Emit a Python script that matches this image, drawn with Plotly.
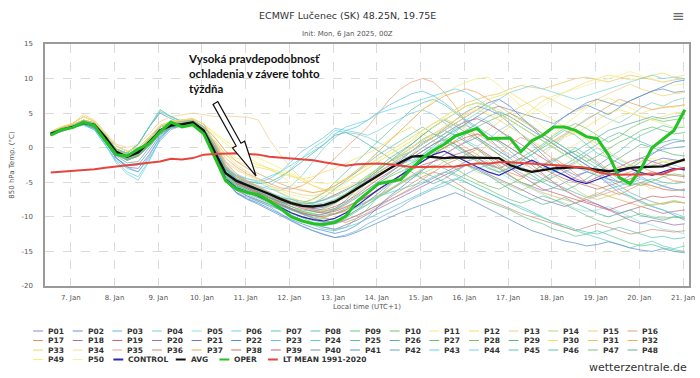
import plotly.graph_objects as go
import pandas as pd

# ---------------- data ----------------
times = pd.date_range("2025-01-06 13:00", periods=59, freq="6h")

avg = [2.0, 2.6, 3.0, 3.6, 3.3, 1.5, -0.6, -1.3, -0.7, 0.8, 2.5, 3.2, 3.4, 3.7, 2.5,
       -0.5, -3.7, -4.8, -5.4, -6.0, -6.7, -7.4, -8.0, -8.4, -8.5, -8.3, -7.8, -6.9, -5.9, -5.0, -4.0,
       -3.0, -2.1, -1.3, -1.2, -1.3, -1.5, -1.4, -1.4, -1.4, -1.4, -1.5, -2.5, -3.1, -3.5, -3.2, -3.0,
       -2.9, -2.8, -3.0, -3.2, -3.4, -3.2, -2.9, -2.8, -2.8, -2.7, -2.2, -1.7]

oper = [1.8, 2.6, 2.9, 3.7, 3.2, 1.0, -1.0, -1.2, -0.2, 0.6, 2.3, 3.7, 3.0, 3.3, 2.0,
        -1.4, -4.8, -6.0, -6.5, -6.8, -7.7, -8.8, -10.0, -10.6, -11.0, -11.1, -10.8, -9.9, -7.8, -6.5, -5.2,
        -4.9, -4.6, -3.0, -1.5, -0.4, 0.5, 1.7, 2.2, 2.8, 1.3, 1.4, 1.4, -0.6, 1.0, 1.8, 3.0,
        3.0, 2.5, 1.6, 1.3, -1.0, -4.3, -5.2, -3.0, 0.0, 1.2, 2.5, 5.5]

lt_mean = [-3.6, -3.5, -3.4, -3.2, -3.1, -2.9, -2.7, -2.6, -2.4, -2.2, -2.0, -1.6, -1.7, -1.5, -1.0,
           -0.9, -0.8, -0.8, -0.9, -1.0, -1.3, -1.4, -1.5, -1.7, -1.8, -2.1, -2.4, -2.6, -2.4, -2.3, -2.3,
           -2.4, -2.6, -2.8, -2.8, -2.8, -2.8, -2.7, -2.5, -2.3, -2.3, -2.1, -2.1, -2.2, -2.3, -2.3, -2.4,
           -2.6, -2.8, -2.9, -3.5, -3.8, -3.9, -3.9, -3.9, -3.8, -3.8, -3.2, -2.9]

control = [1.9, 2.6, 3.0, 3.6, 3.2, 1.2, -0.8, -1.3, -0.5, 0.8, 2.6, 3.4, 3.3, 3.5, 2.2,
           -1.0, -4.5, -5.8, -6.4, -7.0, -7.8, -8.6, -9.4, -10.0, -10.4, -10.6, -10.2, -9.4, -8.4, -7.2, -6.0,
           -5.0, -4.0, -3.0, -2.0, -1.0, -0.5, -1.2, -2.0, -2.8, -3.5, -4.0, -3.2, -2.5, -1.8,
           -2.5, -3.2, -4.0, -4.8, -5.2, -4.6, -4.0, -3.5, -3.0, -3.6, -4.0, -3.5, -3.0, -3.2]

P01 = [2.1, 2.7, 3.1, 3.5, 3.0, 1.2, -0.8, -1.6, -1.0, 0.5, 2.2, 3.0, 3.5, 3.8, 2.8,
       -0.2, -3.5, -5.0, -5.8, -6.5, -7.2, -8.0, -8.8, -9.5, -10.2, -10.8, -11.0, -10.5, -9.8, -9.0, -8.2,
       -7.5, -6.8, -6.0, -5.2, -4.4, -3.5, -2.8, -2.0, -1.5, -2.2, -3.0, -4.1, -5.0, -5.6,
       -6.2, -5.8, -5.0, -4.2, -3.5, -4.0, -5.2, -6.5, -7.0, -7.8, -8.5, -9.0, -9.8, -10.5]
P02 = [1.9, 2.5, 3.2, 3.9, 3.5, 1.8, -0.2, -0.8, 0.5, 3.0, 5.0, 4.2, 3.6, 3.9, 3.0,
       0.5, -2.5, -4.5, -5.5, -6.2, -6.8, -7.5, -8.0, -8.6, -9.0, -9.2, -8.8, -7.6, -6.0, -4.8, -3.5,
       -2.6, -1.8, -0.5, 0.8, 1.5, 2.8, 4.0, 5.2, 6.0, 5.5, 4.8, 3.5, 2.0, 0.5,
       -1.0, -2.5, -3.2, -4.0, -3.5, -2.6, -1.5, -2.2, -3.0, -2.0, -1.0, 0.2, 0.8, 1.0]
P03 = [2.2, 2.8, 2.9, 3.4, 2.8, 0.8, -1.5, -2.8, -3.5, -1.5, 1.0, 2.6, 3.2, 3.5, 2.2,
       -1.0, -4.5, -6.0, -7.0, -7.8, -8.5, -9.5, -10.5, -11.3, -12.0, -12.5, -13.0, -12.6, -12.0, -11.0, -10.2,
       -9.5, -8.6, -7.5, -6.8, -6.0, -5.5, -4.6, -3.8, -3.0, -2.5, -2.0, -2.8, -3.6, -4.5,
       -5.0, -4.2, -3.5, -2.8, -3.4, -4.0, -4.6, -5.5, -5.0, -4.2, -5.0, -5.6, -6.0, -6.2]
P04 = [2.0, 2.6, 3.0, 3.6, 3.3, 1.5, -0.6, -1.3, -0.7, 0.8, 2.5, 3.2, 3.4, 3.7, 2.5,
       0.0, -3.0, -4.2, -5.0, -5.5, -6.0, -6.2, -5.5, -4.0, -2.0, 0.0, 1.5, 2.5, 2.2, 1.8, 2.5,
       3.5, 4.2, 5.0, 5.5, 4.8, 3.6, 2.5, 1.0, 0.2, 1.2, 2.5, 3.4, 2.0, 0.8,
       -0.5, 0.5, 1.8, 3.0, 4.2, 5.0, 4.2, 3.6, 4.5, 5.8, 6.5, 6.0, 6.8, 7.2]
P05 = [2.3, 3.0, 3.5, 4.5, 3.8, 2.0, 0.2, -0.5, 0.0, 1.5, 3.2, 3.8, 4.0, 4.2, 3.4,
       0.8, -2.0, -3.8, -4.5, -5.0, -5.8, -6.5, -7.4, -8.2, -9.0, -9.4, -9.0, -8.0, -6.5, -5.0, -3.8,
       -3.0, -2.4, -1.8, -1.0, 0.0, 0.8, 0.2, -0.6, -1.5, -2.4, -3.5, -4.5, -5.2, -6.0,
       -6.8, -7.5, -8.0, -8.8, -9.2, -9.0, -8.5, -9.2, -10.0, -10.8, -11.2, -11.8, -12.0, -12.5]
P06 = [2.1, 2.5, 2.8, 3.3, 2.6, 0.4, -2.2, -3.8, -4.7, -2.0, 1.2, 2.9, 3.3, 3.6, 2.0,
       -1.2, -4.0, -5.2, -5.8, -6.0, -5.5, -4.5, -3.0, -1.5, 0.0, 1.0, 2.5, 2.2, 2.0, 1.5, 0.8,
       0.0, -1.0, -2.0, -1.2, -0.2, 1.0, 2.2, 3.5, 4.5, 3.8, 2.5, 1.2, 0.0, -1.2,
       -2.5, -3.6, -2.8, -2.0, -1.0, 0.0, -0.8, -1.8, -2.5, -3.2, -2.6, -2.0, -2.5, -3.0]
P07 = [1.8, 2.4, 2.9, 3.5, 3.1, 1.2, -1.0, -1.8, -1.2, 0.4, 2.2, 3.0, 3.3, 3.6, 2.2,
       -0.8, -4.5, -6.5, -7.2, -7.8, -8.4, -9.0, -9.8, -10.5, -11.2, -11.8, -12.0, -11.5, -10.2, -8.8, -7.0,
       -5.5, -4.0, -2.5, -1.0, 0.2, 1.5, 2.8, 3.2, 2.5, 1.5, 0.0, -1.5, -2.8, -3.5,
       -4.5, -5.2, -5.8, -6.5, -7.2, -6.8, -6.0, -5.5, -6.5, -7.2, -7.8, -8.2, -7.8, -8.0]
P08 = [2.0, 2.7, 3.1, 3.7, 3.4, 1.6, -0.5, -1.1, -0.4, 1.2, 3.0, 3.5, 3.6, 3.8, 2.8,
       0.2, -3.0, -4.6, -5.4, -6.0, -6.8, -7.4, -8.0, -8.0, -7.4, -6.5, -5.0, -3.5, -2.0, -0.5, 1.0,
       2.5, 4.0, 5.5, 6.5, 7.0, 6.2, 5.0, 3.8, 2.6, 1.5, 0.8, -0.5, -1.8, -1.0,
       0.2, 1.5, 2.5, 1.8, 0.5, -0.8, -1.5, -0.5, 0.8, 1.8, 2.5, 3.2, 2.8, 3.0]
P09 = [1.9, 2.5, 3.2, 3.9, 3.5, 1.8, -0.2, -0.8, 0.5, 3.0, 5.5, 4.5, 3.8, 3.9, 3.0,
       0.0, -3.5, -5.2, -6.0, -6.8, -7.6, -8.4, -9.0, -9.6, -10.0, -10.2, -10.5, -10.0, -9.0, -8.2, -7.0,
       -6.2, -5.0, -4.2, -3.5, -4.2, -5.0, -5.8, -6.5, -7.2, -7.8, -8.5, -9.0, -9.8, -10.5,
       -11.0, -11.8, -12.2, -12.8, -12.5, -12.0, -12.6, -13.2, -13.8, -14.2, -14.0, -14.5, -14.8, -15.0]
P10 = [2.1, 2.6, 3.0, 3.6, 3.2, 1.4, -0.7, -1.4, -0.8, 0.7, 2.4, 3.3, 3.5, 3.8, 2.6,
       -0.6, -4.2, -5.5, -6.2, -6.8, -7.3, -7.8, -8.2, -8.5, -8.6, -8.2, -7.5, -6.6, -5.5, -4.4, -3.2,
       -2.0, -1.0, 0.0, 1.2, 2.0, 1.5, 0.5, -0.8, -1.8, -2.8, -3.6, -2.8, -1.5, -0.5,
       0.5, 1.8, 2.8, 3.5, 2.8, 1.8, 0.8, 1.6, 2.8, 3.6, 4.2, 3.8, 4.0, 4.3]
P11 = [2.3, 3.0, 3.5, 4.5, 3.8, 2.0, 0.2, -0.5, 0.0, 1.5, 3.2, 3.8, 4.0, 4.2, 3.4,
       2.0, 0.5, -0.8, -1.5, -2.2, -3.0, -4.0, -5.2, -6.0, -6.5, -6.2, -5.5, -4.5, -3.5, -2.0, -0.5,
       1.0, 2.5, 4.0, 5.5, 6.8, 7.8, 8.8, 9.5, 10.0, 10.2, 9.0, 7.5, 6.0, 4.5,
       3.0, 2.0, 3.2, 4.5, 5.8, 6.5, 7.2, 6.5, 5.8, 5.0, 5.5, 6.0, 5.8, 6.2]
P12 = [2.0, 2.6, 3.0, 3.6, 3.3, 1.5, -0.6, -1.3, -0.7, 0.8, 2.5, 3.2, 3.4, 3.7, 2.5,
       1.0, -1.0, -2.0, -2.5, -2.8, -3.2, -3.8, -4.2, -4.5, -4.2, -3.5, -3.0, -2.2, -1.5, -0.8, 0.0,
       1.2, 2.2, 3.0, 2.0, 1.0, 0.0, -1.2, -2.0, -1.0, 0.5, 1.8, 3.0, 4.2, 5.5,
       6.8, 7.5, 8.0, 8.8, 9.5, 10.0, 10.5, 10.2, 9.8, 10.0, 10.5, 10.8, 10.2, 10.5]
P13 = [2.3, 3.0, 3.5, 4.8, 4.0, 2.2, 0.5, 0.0, 0.5, 2.0, 3.8, 4.5, 4.8, 5.0, 4.8,
       4.5, 4.6, 4.5, 4.4, 4.0, 1.2, -1.0, -3.0, -4.5, -5.5, -6.2, -6.8, -7.2, -6.5, -5.5, -4.2,
       -3.0, -2.0, -1.0, 0.5, 1.8, 2.8, 3.5, 2.8, 1.5, 0.2, -1.0, -2.2, -3.0, -2.0,
       -1.0, 0.2, 1.5, 2.2, 1.2, 0.0, -1.5, -2.8, -4.0, -5.2, -6.0, -5.5, -4.8, -5.0]
P14 = [1.8, 2.4, 2.9, 3.5, 3.1, 1.2, -1.0, -1.8, -1.2, 0.4, 2.2, 3.0, 3.3, 3.6, 2.2,
       -0.5, -3.8, -5.5, -6.5, -7.2, -8.0, -8.8, -9.5, -10.0, -10.5, -10.2, -9.5, -9.0, -8.4, -7.8, -7.0,
       -6.0, -5.2, -4.5, -3.8, -3.0, -2.0, -1.5, -2.5, -3.5, -4.0, -4.8, -5.5, -6.2, -5.5,
       -4.8, -4.0, -5.0, -6.0, -7.0, -7.5, -7.0, -6.5, -7.2, -7.8, -8.4, -8.0, -7.6, -8.0]
P15 = [2.0, 2.7, 3.1, 3.7, 3.4, 1.6, -0.5, -1.1, -0.4, 1.2, 3.0, 3.5, 3.6, 3.8, 2.8,
       0.5, -2.0, -3.2, -4.0, -4.8, -5.5, -6.0, -6.4, -6.8, -7.0, -6.5, -5.8, -5.0, -4.0, -3.0, -2.0,
       -1.0, 0.0, 1.0, 2.5, 3.5, 4.2, 3.5, 2.5, 1.5, 2.5, 3.8, 5.0, 6.0, 6.8,
       7.5, 6.8, 6.0, 5.2, 6.0, 7.0, 7.8, 8.5, 9.2, 8.5, 8.0, 7.5, 7.8, 8.0]
P16 = [2.2, 2.9, 3.3, 4.0, 3.6, 1.8, -0.3, -1.0, -0.3, 1.2, 3.0, 3.6, 3.8, 4.0, 3.0,
       0.8, -1.5, -2.8, -3.8, -4.5, -5.2, -5.8, -6.0, -5.5, -4.5, -3.0, -1.5, 0.0, 1.5, 3.0, 5.0,
       7.0, 8.5, 9.5, 10.0, 9.5, 8.0, 6.0, 3.5, 1.5, 0.0, -1.0, 0.5, 1.5, 0.8,
       -0.5, -1.8, -3.0, -2.2, -1.0, -2.0, -3.2, -4.0, -3.5, -2.8, -3.5, -4.2, -4.8, -5.0]
P17 = [2.1, 2.7, 3.1, 3.5, 3.0, 1.2, -0.8, -1.6, -1.0, 0.5, 2.2, 3.0, 3.5, 3.8, 2.8,
       0.0, -3.2, -4.8, -5.6, -6.4, -7.2, -8.2, -9.0, -9.4, -9.8, -10.2, -10.5, -10.8, -10.2, -9.4, -8.5,
       -7.6, -6.8, -5.8, -4.6, -3.5, -2.5, -1.8, -1.0, -0.2, -1.2, -2.5, -3.6, -4.2, -3.5,
       -2.5, -1.5, -2.5, -3.8, -5.0, -5.5, -6.2, -6.8, -6.0, -5.2, -5.5, -6.0, -6.2, -6.0]
P18 = [1.9, 2.5, 2.9, 3.4, 3.0, 1.3, -0.9, -1.7, -1.2, 0.3, 2.0, 3.0, 3.3, 3.6, 2.3,
       -0.3, -3.6, -5.0, -5.8, -6.4, -7.0, -7.6, -8.0, -8.2, -8.0, -7.5, -6.8, -6.0, -5.2, -4.5, -3.8,
       -3.0, -2.2, -1.5, -0.5, 0.5, 1.2, 0.5, -0.5, -1.5, -2.5, -3.0, -2.2, -1.5, -2.5,
       -3.8, -5.0, -6.2, -7.0, -7.8, -8.2, -8.8, -9.5, -9.0, -8.5, -9.0, -9.5, -9.2, -9.0]
P19 = [2.0, 2.6, 3.0, 3.6, 3.3, 1.5, -0.6, -1.3, -0.7, 0.8, 2.5, 3.2, 3.4, 3.7, 2.5,
       0.2, -2.8, -4.2, -5.0, -5.8, -6.5, -7.2, -7.8, -8.4, -8.8, -9.0, -8.5, -7.8, -6.8, -5.6, -4.5,
       -3.5, -2.5, -1.2, 0.0, 1.0, 2.0, 3.0, 3.8, 4.2, 3.5, 2.5, 1.5, 0.5, -0.5,
       -1.5, -2.5, -3.5, -4.5, -5.0, -4.2, -3.5, -2.8, -2.0, -1.5, -2.0, -2.5, -3.0, -3.2]
P20 = [2.2, 2.8, 2.9, 3.4, 2.8, 0.8, -1.5, -2.8, -3.0, -1.0, 1.5, 2.8, 3.2, 3.5, 2.2,
       -1.0, -4.5, -6.2, -7.0, -7.6, -8.2, -9.0, -9.8, -10.5, -11.0, -11.5, -11.8, -11.2, -10.5, -9.6, -8.8,
       -8.0, -7.2, -6.4, -5.5, -4.8, -4.0, -3.2, -2.5, -3.0, -3.8, -4.5, -5.2, -6.0, -6.8,
       -7.5, -8.0, -8.5, -8.0, -7.5, -8.2, -9.0, -9.8, -10.5, -11.0, -10.5, -10.8, -11.2, -11.0]
P21 = [2.1, 2.6, 3.0, 3.6, 3.2, 1.4, -0.7, -1.4, -0.8, 0.7, 2.4, 3.3, 3.5, 3.8, 2.6,
       -0.5, -3.5, -5.0, -5.8, -6.5, -7.2, -7.8, -8.2, -8.5, -8.8, -8.6, -8.0, -7.0, -5.8, -4.6, -3.5,
       -2.5, -1.5, -0.5, 0.5, 1.5, 2.5, 3.5, 4.5, 5.5, 6.5, 7.0, 6.0, 4.5, 3.0,
       1.5, 0.5, -0.5, -1.5, -2.5, -3.5, -4.5, -5.0, -4.0, -3.0, -2.0, -1.5, -1.8, -2.0]
P22 = [1.8, 2.4, 2.9, 3.5, 3.1, 1.2, -1.0, -1.8, -1.2, 0.4, 2.2, 3.0, 3.3, 3.6, 2.2,
       -1.0, -4.8, -6.5, -7.4, -8.0, -8.8, -9.6, -10.4, -11.0, -11.6, -12.0, -12.4, -12.0, -11.2, -10.0, -8.5,
       -7.0, -5.8, -4.5, -3.2, -2.0, -1.0, 0.0, 0.8, 1.5, 0.5, -0.5, -1.5, -0.5, 0.8,
       2.0, 3.2, 4.5, 5.5, 6.2, 5.5, 4.8, 5.8, 6.8, 7.5, 8.2, 8.8, 9.5, 9.8]
P23 = [2.1, 2.5, 2.8, 3.3, 2.6, 0.4, -1.8, -3.0, -3.5, -1.2, 1.5, 3.0, 3.4, 3.6, 2.2,
       -0.8, -3.5, -4.5, -5.0, -5.0, -4.5, -3.5, -2.0, -0.5, 0.5, 1.5, 2.8, 2.5, 3.0, 4.0, 5.2,
       6.2, 7.0, 7.8, 8.2, 7.5, 6.5, 5.2, 4.0, 3.0, 2.0, 1.0, 0.0, -1.0, -2.0,
       -3.0, -2.0, -1.0, 0.0, -1.0, -2.2, -3.5, -4.5, -5.2, -4.5, -5.0, -5.5, -6.0, -6.2]
P24 = [2.0, 2.6, 3.0, 3.6, 3.3, 1.5, -0.6, -1.3, -0.7, 0.8, 2.5, 3.2, 3.4, 3.7, 2.5,
       -0.2, -3.8, -5.4, -6.2, -6.8, -7.5, -8.2, -9.0, -9.6, -10.2, -10.5, -10.2, -9.5, -8.6, -7.8, -7.0,
       -6.5, -6.0, -5.5, -5.0, -4.2, -3.5, -4.0, -5.0, -5.8, -6.5, -7.2, -8.0, -8.5, -9.2,
       -10.0, -10.8, -11.5, -12.0, -12.5, -13.0, -13.5, -14.0, -14.5, -14.0, -13.5, -14.2, -14.6, -14.2]
P25 = [1.9, 2.5, 3.2, 3.9, 3.5, 1.8, -0.2, -0.8, 0.5, 3.0, 5.2, 4.5, 3.8, 3.9, 3.0,
       0.0, -3.2, -4.8, -5.6, -6.2, -6.8, -7.2, -7.5, -7.8, -8.0, -7.6, -7.0, -6.2, -5.2, -4.0, -3.0,
       -2.0, -1.2, -0.5, 0.5, 1.5, 2.5, 1.8, 0.8, -0.2, -1.5, -2.8, -4.0, -5.0, -5.5,
       -4.5, -3.5, -2.5, -1.5, -0.5, 0.5, 1.5, 2.2, 1.5, 0.8, 0.2, 0.8, 1.2, 1.0]
P26 = [2.2, 2.8, 3.0, 3.5, 3.0, 1.0, -1.2, -2.2, -2.0, 0.0, 2.0, 3.0, 3.4, 3.6, 2.4,
       -0.5, -3.0, -4.0, -4.8, -5.2, -5.0, -4.2, -3.2, -2.0, -0.8, 0.5, 1.8, 2.2, 1.5, 0.5, -0.5,
       -1.5, -2.5, -3.5, -4.5, -5.2, -4.5, -3.5, -2.5, -3.2, -4.0, -5.0, -6.0, -6.8, -7.5,
       -8.2, -7.8, -7.2, -8.0, -8.8, -9.5, -10.0, -9.5, -9.0, -9.8, -10.2, -10.5, -10.0, -10.2]
P27 = [2.1, 2.7, 3.1, 3.5, 3.0, 1.2, -0.8, -1.6, -1.0, 0.5, 2.2, 3.0, 3.5, 3.8, 2.8,
       -0.3, -3.8, -5.2, -6.0, -6.6, -7.2, -7.8, -8.5, -9.2, -9.6, -9.8, -9.5, -8.8, -7.8, -6.6, -5.2,
       -4.0, -3.0, -2.2, -1.5, -0.8, 0.0, 1.0, 2.0, 3.0, 3.8, 4.5, 5.0, 4.2, 3.2,
       2.0, 1.0, 0.0, -1.0, -2.0, -1.2, -0.2, 0.8, 1.5, 2.5, 3.0, 2.5, 2.0, 2.2]
P28 = [1.9, 2.5, 2.9, 3.4, 3.0, 1.3, -0.9, -1.7, -1.2, 0.3, 2.0, 3.0, 3.3, 3.6, 2.3,
       -0.6, -4.0, -5.6, -6.4, -7.0, -7.6, -8.2, -8.8, -9.2, -9.5, -9.2, -8.8, -8.0, -7.0, -6.0, -5.0,
       -4.2, -3.5, -2.8, -2.0, -1.2, -2.0, -3.0, -4.0, -4.8, -5.5, -6.0, -5.2, -4.5, -3.5,
       -2.5, -1.8, -1.0, -0.5, -1.5, -2.5, -3.5, -4.2, -5.0, -5.5, -4.8, -4.2, -3.8, -4.0]
P29 = [2.0, 2.7, 3.1, 3.7, 3.4, 1.6, -0.5, -1.1, -0.4, 1.2, 3.0, 3.5, 3.6, 3.8, 2.8,
       -0.2, -3.4, -4.8, -5.6, -6.2, -6.8, -7.4, -8.0, -8.4, -8.6, -8.4, -7.8, -6.8, -5.6, -4.2, -2.8,
       -1.5, -0.5, 0.5, 1.8, 3.0, 4.0, 3.2, 2.2, 1.2, 0.2, -1.0, -2.0, -3.0, -4.0,
       -5.0, -5.8, -6.2, -5.5, -4.5, -3.5, -2.5, -1.5, -0.5, 0.5, 0.0, -0.5, -1.0, -1.2]
P30 = [2.3, 3.0, 3.5, 4.5, 3.8, 2.0, 0.2, -0.5, 0.0, 1.5, 3.2, 3.8, 4.0, 4.2, 3.4,
       1.5, -0.5, -1.5, -2.0, -2.5, -3.0, -3.5, -4.0, -4.8, -5.5, -6.0, -6.2, -5.8, -5.0, -4.0, -3.0,
       -2.0, -1.0, 0.0, 1.0, 2.0, 3.0, 4.0, 5.0, 6.0, 7.0, 7.5, 8.0, 7.0, 6.0,
       5.0, 4.0, 3.0, 2.0, 3.0, 4.0, 5.0, 5.5, 5.0, 4.5, 4.0, 4.5, 5.0, 5.2]
P31 = [2.2, 2.9, 3.3, 4.0, 3.6, 1.8, -0.3, -1.0, -0.3, 1.2, 3.0, 3.6, 3.8, 4.0, 3.0,
       0.5, -2.5, -4.0, -5.0, -5.8, -6.5, -7.2, -7.8, -8.0, -7.5, -6.5, -5.5, -4.5, -3.5, -2.5, -1.5,
       -0.5, 0.5, 1.5, 2.5, 3.5, 4.5, 5.5, 6.5, 7.0, 7.5, 7.8, 8.5, 9.0, 8.8,
       8.5, 9.0, 9.5, 10.0, 10.2, 9.8, 9.5, 10.0, 10.5, 10.2, 9.8, 9.5, 9.8, 10.0]
P32 = [2.1, 2.7, 3.1, 3.5, 3.0, 1.2, -0.8, -1.6, -1.0, 0.5, 2.2, 3.0, 3.5, 3.8, 2.8,
       0.0, -2.8, -4.2, -5.0, -5.8, -6.5, -7.2, -7.8, -8.5, -9.0, -9.2, -9.0, -8.5, -7.8, -7.0, -6.2,
       -5.2, -4.2, -3.0, -2.0, -1.0, 0.0, 1.0, 0.0, -1.0, -2.0, -3.0, -4.0, -5.0, -5.8,
       -6.5, -7.0, -7.5, -8.0, -7.2, -6.5, -7.0, -7.5, -8.0, -8.5, -8.2, -8.0, -7.8, -8.0]
P33 = [1.8, 2.4, 2.9, 3.5, 3.1, 1.2, -1.0, -1.8, -1.2, 0.4, 2.2, 3.0, 3.3, 3.6, 2.2,
       1.0, -1.0, -2.5, -3.5, -4.5, -5.5, -6.5, -7.2, -7.8, -8.2, -8.5, -8.0, -7.2, -6.2, -5.0, -3.8,
       -2.5, -1.2, 0.0, 1.0, 2.0, 3.0, 4.0, 4.8, 5.5, 4.8, 4.0, 3.0, 2.0, 1.0,
       0.0, 0.8, 1.8, 2.5, 1.5, 0.5, -0.5, -1.5, -2.5, -3.0, -2.5, -2.0, -1.8, -2.0]
P34 = [2.0, 2.6, 3.0, 3.6, 3.3, 1.5, -0.6, -1.3, -0.7, 0.8, 2.5, 3.2, 3.4, 3.7, 2.5,
       0.0, -3.0, -4.5, -5.2, -6.0, -6.8, -7.5, -8.2, -8.8, -9.2, -9.0, -8.2, -7.0, -5.8, -4.6, -3.5,
       -2.5, -1.5, -0.5, 0.5, 1.5, 2.5, 3.5, 4.5, 5.5, 6.0, 5.5, 4.5, 3.5, 2.5,
       1.5, 0.5, -0.5, 0.5, 1.5, 2.5, 3.5, 4.5, 5.0, 4.5, 4.0, 3.5, 3.0, 3.2]
P35 = [2.3, 3.0, 3.5, 4.5, 3.8, 2.0, 0.2, -0.5, 0.0, 1.5, 3.2, 3.8, 4.0, 4.2, 3.4,
       0.5, -2.2, -3.8, -4.8, -5.6, -6.4, -7.2, -8.0, -8.6, -9.0, -9.4, -9.6, -9.2, -8.5, -7.6, -6.8,
       -6.0, -5.0, -4.0, -3.0, -2.0, -1.0, 0.0, 1.0, 2.0, 1.0, 0.0, -1.0, -2.0, -3.0,
       -4.0, -5.0, -6.0, -7.0, -7.5, -7.0, -6.5, -6.0, -5.5, -5.0, -5.5, -6.0, -6.2, -6.0]
P36 = [1.9, 2.5, 2.9, 3.4, 3.0, 1.3, -0.9, -1.7, -1.2, 0.3, 2.0, 3.0, 3.3, 3.6, 2.3,
       -0.2, -3.5, -5.0, -5.8, -6.5, -7.2, -8.0, -8.8, -9.6, -10.2, -10.6, -10.8, -10.4, -9.8, -9.0, -8.2,
       -7.2, -6.2, -5.2, -4.2, -3.5, -4.0, -5.0, -6.0, -6.8, -7.5, -8.2, -8.8, -9.5, -10.0,
       -10.5, -11.0, -11.5, -12.0, -11.5, -11.0, -11.5, -12.0, -12.5, -12.2, -11.8, -12.0, -12.2, -12.0]
P37 = [2.2, 2.9, 3.3, 4.0, 3.6, 1.8, -0.3, -1.0, -0.3, 1.2, 3.0, 3.6, 3.8, 4.0, 3.0,
       1.5, -0.5, -2.0, -3.0, -3.8, -4.5, -5.2, -5.8, -6.2, -6.5, -6.2, -5.5, -4.5, -3.2, -2.0, -0.5,
       1.0, 2.5, 4.0, 5.5, 6.5, 7.5, 8.0, 8.5, 8.0, 7.0, 6.0, 5.0, 4.0, 3.0,
       2.0, 1.0, 2.0, 3.0, 4.0, 5.0, 6.0, 7.0, 6.5, 6.0, 5.5, 5.8, 6.0, 6.2]
P38 = [2.0, 2.7, 3.1, 3.7, 3.4, 1.6, -0.5, -1.1, -0.4, 1.2, 3.0, 3.5, 3.6, 3.8, 2.8,
       -0.4, -3.6, -5.2, -6.0, -6.8, -7.5, -8.2, -8.8, -9.4, -9.8, -10.0, -9.6, -9.0, -8.0, -7.0, -6.0,
       -5.0, -4.0, -3.0, -2.0, -1.0, 0.0, 0.8, 1.5, 2.0, 1.5, 1.0, 0.0, -1.0, -2.0,
       -3.0, -3.8, -4.5, -5.0, -5.5, -6.0, -5.5, -5.0, -4.5, -4.0, -3.5, -3.8, -4.0, -4.2]
P39 = [2.1, 2.6, 3.0, 3.6, 3.2, 1.4, -0.7, -1.4, -0.8, 0.7, 2.4, 3.3, 3.5, 3.8, 2.6,
       0.0, -3.0, -4.5, -5.2, -6.0, -6.8, -7.6, -8.2, -8.8, -9.2, -9.5, -9.2, -8.6, -7.8, -7.0, -6.0,
       -5.0, -4.0, -3.2, -2.5, -2.0, -1.5, -1.0, -0.5, 0.0, -1.0, -2.0, -3.0, -4.0, -5.0,
       -6.0, -6.5, -7.0, -7.5, -8.0, -8.5, -9.0, -8.5, -8.0, -7.5, -7.0, -7.2, -7.0, -7.2]
P40 = [1.8, 2.4, 2.9, 3.5, 3.1, 1.2, -1.0, -1.8, -1.2, 0.4, 2.2, 3.0, 3.3, 3.6, 2.2,
       -0.8, -4.2, -5.8, -6.6, -7.2, -7.8, -8.4, -9.0, -9.5, -9.8, -9.6, -9.0, -8.2, -7.2, -6.0, -4.8,
       -3.6, -2.5, -1.5, -0.5, 0.5, 1.5, 2.5, 3.5, 4.5, 5.5, 6.0, 5.5, 5.0, 4.5,
       4.0, 3.5, 4.5, 5.5, 6.5, 7.0, 6.5, 6.0, 6.8, 7.5, 8.2, 8.5, 8.0, 8.2]
P41 = [2.2, 2.8, 2.9, 3.4, 2.8, 0.8, -1.5, -2.6, -2.5, -0.5, 1.8, 2.9, 3.2, 3.5, 2.2,
       -1.2, -4.8, -6.6, -7.5, -8.2, -9.0, -9.8, -10.6, -11.4, -12.0, -12.6, -13.0, -12.8, -12.2, -11.5, -10.8,
       -10.0, -9.4, -8.8, -8.2, -7.6, -7.0, -6.5, -7.2, -8.0, -8.8, -9.6, -10.4, -11.2, -12.0,
       -12.5, -13.0, -13.5, -13.8, -14.2, -14.0, -13.6, -14.0, -14.5, -14.8, -15.0, -14.6, -15.0, -15.2]
P42 = [2.0, 2.6, 3.0, 3.6, 3.3, 1.5, -0.6, -1.3, -0.7, 0.8, 2.5, 3.2, 3.4, 3.7, 2.5,
       -0.4, -3.8, -5.4, -6.2, -7.0, -7.8, -8.6, -9.4, -10.0, -10.5, -10.8, -10.6, -10.0, -9.0, -7.8, -6.5,
       -5.2, -4.0, -2.8, -1.6, -0.5, 0.5, 1.5, 2.5, 3.5, 4.5, 5.2, 4.5, 3.5, 2.5,
       1.5, 0.5, -0.5, -1.5, -2.5, -3.5, -4.0, -3.5, -2.5, -1.5, -0.8, -0.2, 0.0, 0.2]
P43 = [2.1, 2.5, 2.8, 3.3, 2.6, 0.4, -2.0, -3.5, -4.2, -1.8, 1.2, 2.9, 3.3, 3.6, 2.0,
       -0.5, -3.0, -4.0, -4.5, -4.8, -4.2, -3.5, -2.5, -1.5, -0.5, 0.5, 2.0, 3.0, 3.5, 4.0, 5.0,
       5.5, 6.0, 6.5, 7.0, 7.5, 8.0, 8.5, 8.0, 7.0, 6.0, 5.0, 4.0, 3.0, 2.0,
       1.0, 0.0, -1.0, -2.0, -3.0, -4.0, -5.0, -6.0, -7.0, -8.0, -8.5, -9.0, -9.5, -10.0]
P44 = [1.9, 2.5, 3.2, 3.9, 3.5, 1.8, -0.2, -0.8, 0.5, 3.0, 5.5, 4.5, 3.8, 3.9, 3.0,
       0.2, -3.0, -4.5, -5.2, -5.8, -6.5, -7.0, -7.5, -8.0, -8.2, -8.0, -7.5, -6.8, -6.0, -5.0, -4.0,
       -3.0, -2.0, -1.0, 0.0, 1.0, 2.0, 3.0, 4.0, 5.0, 6.0, 7.0, 8.0, 8.5, 9.0,
       8.5, 8.0, 7.5, 7.0, 7.5, 8.0, 8.5, 9.0, 9.5, 10.0, 10.5, 10.0, 10.2, 10.0]
P45 = [2.1, 2.7, 3.1, 3.5, 3.0, 1.2, -0.8, -1.6, -1.0, 0.5, 2.2, 3.0, 3.5, 3.8, 2.8,
       -0.8, -4.5, -6.0, -6.8, -7.5, -8.2, -9.0, -9.8, -10.5, -11.0, -11.5, -11.8, -11.5, -11.0, -10.2, -9.5,
       -8.8, -8.0, -7.2, -6.5, -5.8, -5.0, -4.5, -5.0, -5.8, -6.5, -7.2, -8.0, -8.8, -9.5,
       -10.2, -10.8, -11.2, -11.8, -12.2, -12.5, -12.0, -11.5, -12.0, -12.5, -13.0, -12.8, -13.2, -13.0]
P46 = [2.0, 2.7, 3.1, 3.7, 3.4, 1.6, -0.5, -1.1, -0.4, 1.2, 3.0, 3.5, 3.6, 3.8, 2.8,
       0.0, -3.2, -4.6, -5.4, -6.0, -6.6, -7.2, -7.8, -8.2, -8.0, -7.2, -6.0, -4.8, -3.5, -2.2, -1.0,
       0.0, 1.0, 2.0, 3.0, 2.0, 1.0, 0.0, -1.0, -2.0, -3.0, -3.5, -3.0, -2.0, -1.0,
       0.0, 1.0, 0.0, -1.0, -2.0, -3.0, -4.0, -5.0, -5.5, -5.0, -4.5, -5.0, -5.2, -5.0]
P47 = [1.9, 2.5, 2.9, 3.4, 3.0, 1.3, -0.9, -1.7, -1.2, 0.3, 2.0, 3.0, 3.3, 3.6, 2.3,
       -0.5, -4.0, -5.6, -6.5, -7.2, -8.0, -8.8, -9.5, -10.2, -10.8, -11.2, -11.0, -10.2, -9.2, -8.2, -7.2,
       -6.2, -5.2, -4.2, -3.2, -2.5, -3.0, -3.8, -4.5, -5.2, -6.0, -6.8, -7.5, -8.0, -7.5,
       -7.0, -7.5, -8.2, -9.0, -9.8, -10.5, -11.0, -10.5, -10.0, -9.5, -10.0, -10.2, -10.0, -10.2]
P48 = [2.0, 2.6, 3.0, 3.6, 3.3, 1.5, -0.6, -1.3, -0.7, 0.8, 2.5, 3.2, 3.4, 3.7, 2.5,
       0.2, -3.0, -4.6, -5.5, -6.2, -7.0, -7.8, -8.5, -9.0, -9.2, -8.8, -8.0, -7.0, -5.8, -4.5, -3.2,
       -2.0, -0.8, 0.5, 1.8, 3.0, 4.0, 5.0, 6.0, 6.5, 6.0, 5.0, 4.0, 3.0, 2.0,
       1.0, 0.0, -1.0, -0.5, 0.5, 1.5, 2.5, 3.0, 3.5, 4.0, 4.5, 4.2, 4.5, 4.8]
P49 = [2.3, 3.0, 3.5, 4.5, 3.8, 2.0, 0.2, -0.5, 0.0, 1.5, 3.2, 3.8, 4.0, 4.2, 3.4,
       2.2, 1.0, 0.0, -0.8, -1.5, -2.2, -3.0, -3.8, -4.5, -5.0, -5.2, -5.0, -4.5, -4.0, -3.0, -2.0,
       -1.0, 0.0, 1.0, 2.0, 3.0, 4.0, 5.0, 6.0, 6.5, 6.0, 5.0, 4.0, 3.0, 2.0,
       1.0, 0.0, -1.0, -2.0, -3.0, -4.0, -3.5, -3.0, -2.5, -2.0, -1.5, -2.0, -2.2, -2.0]
P50 = [2.0, 2.7, 3.1, 3.7, 3.4, 1.6, -0.5, -1.1, -0.4, 1.2, 3.0, 3.5, 3.6, 3.8, 2.8,
       1.0, -1.5, -3.0, -4.0, -4.8, -5.5, -6.2, -6.8, -7.2, -7.5, -7.0, -6.2, -5.2, -4.0, -2.8, -1.5,
       -0.5, 0.5, 1.5, 2.5, 3.5, 4.5, 5.5, 6.0, 5.5, 5.0, 4.5, 4.0, 4.5, 5.0,
       6.0, 7.0, 8.0, 8.5, 9.0, 9.5, 10.0, 10.5, 11.0, 10.5, 10.0, 9.5, 9.0, 9.2]

members = {
    "P01": P01, "P02": P02, "P03": P03, "P04": P04, "P05": P05, "P06": P06, "P07": P07, "P08": P08,
    "P09": P09, "P10": P10, "P11": P11, "P12": P12, "P13": P13, "P14": P14, "P15": P15, "P16": P16,
    "P17": P17, "P18": P18, "P19": P19, "P20": P20, "P21": P21, "P22": P22, "P23": P23, "P24": P24,
    "P25": P25, "P26": P26, "P27": P27, "P28": P28, "P29": P29, "P30": P30, "P31": P31, "P32": P32,
    "P33": P33, "P34": P34, "P35": P35, "P36": P36, "P37": P37, "P38": P38, "P39": P39, "P40": P40,
    "P41": P41, "P42": P42, "P43": P43, "P44": P44, "P45": P45, "P46": P46, "P47": P47, "P48": P48,
    "P49": P49, "P50": P50,
}

member_colors = [
    "#8a8ad6", "#6f8fcf", "#6fb0dc", "#7fcfd6", "#8fe0e0", "#6fd6dc", "#5fc3b5", "#5fc6a3",
    "#5fca8f", "#6cc86c", "#f3ee7a", "#f2e06a", "#f0cf8a", "#b8d77a", "#ecd27d", "#ec9f73",
    "#e79460", "#a9768a", "#c9607f", "#9670b0", "#6676c8", "#4f8fd6", "#5fc1e3", "#5fd0c2",
    "#52c3a2", "#4fb3a5", "#62c272", "#76c462", "#5cb588", "#f4e25c", "#eec463", "#e5b354",
    "#ecd46e", "#ede391", "#e8a294", "#c99372", "#e7a565", "#c67464", "#c86376", "#7193b3",
    "#5a8ed0", "#5ea4c8", "#5fd4e6", "#72d6d6", "#5cc4c4", "#5cc4b0", "#72c482", "#5cb394",
    "#f5f36c", "#f3f1a0",
]

special_names = ["CONTROL", "AVG", "OPER", "LT MEAN 1991-2020"]
special_colors = ["#2a2ab8", "#111111", "#22c322", "#e5453c"]

tick_days = ["2025-01-%02d" % d for d in range(7, 22)]
tick_text = ["%d. Jan" % d for d in range(7, 22)]
y_ticks = [-20, -15, -10, -5, 0, 5, 10, 15]
y_tick_text = ["-20", "-15", "-10", "-5", "0", "5", "10", "15"]

title_text = "ECMWF Lučenec (SK) 48.25N, 19.75E"
subtitle_text = "Init: Mon, 6 Jan 2025, 00Z"
note_text = "Vysoká pravdepodobnosť<br>ochladenia v závere tohto<br>týždňa"

for k, v in list(members.items()) + [("avg", avg), ("oper", oper), ("lt", lt_mean), ("ctl", control)]:
    if len(v) != 59:
        raise ValueError("%s has %d values" % (k, len(v)))

# ---------------- geometry helpers ----------------
W, H = 700, 378
ML, MR, MT, MB = 45, 5, 44, 92
PL, PR, PT, PB = ML, W - MR, MT, H - MB


def pxx(x):
    return (x - PL) / (PR - PL)


def pxy(y):
    return (PB - y) / (PB - PT)


fig = go.Figure()

for (name, vals), col in zip(members.items(), member_colors):
    fig.add_trace(go.Scatter(x=times, y=vals, mode="lines", name=name,
                             line=dict(color=col, width=0.9), opacity=0.8,
                             showlegend=False, hoverinfo="skip"))

fig.add_trace(go.Scatter(x=times, y=control, mode="lines", name="CONTROL",
                         line=dict(color=special_colors[0], width=1.2), showlegend=False))
fig.add_trace(go.Scatter(x=times, y=avg, mode="lines", name="AVG",
                         line=dict(color=special_colors[1], width=2.3), showlegend=False))
fig.add_trace(go.Scatter(x=times, y=oper, mode="lines", name="OPER",
                         line=dict(color=special_colors[2], width=3), showlegend=False))
fig.add_trace(go.Scatter(x=times, y=lt_mean, mode="lines", name="LT MEAN 1991-2020",
                         line=dict(color=special_colors[3], width=2), showlegend=False))

annotations = []
shapes = []

# titles
annotations.append(dict(text=title_text, x=pxx(350), y=pxy(15), xref="paper", yref="paper",
                        showarrow=False, xanchor="center", yanchor="middle",
                        font=dict(family="DejaVu Sans", size=9.5, color="#333333")))
annotations.append(dict(text=subtitle_text, x=pxx(350), y=pxy(34), xref="paper", yref="paper",
                        showarrow=False, xanchor="center", yanchor="middle",
                        font=dict(family="DejaVu Sans", size=7, color="#555555")))
annotations.append(dict(text="≡", x=pxx(684), y=pxy(16), xref="paper", yref="paper",
                        showarrow=False, xanchor="center", yanchor="middle",
                        font=dict(family="DejaVu Sans", size=15, color="#666666")))
annotations.append(dict(text="wetterzentrale.de", x=pxx(695), y=pxy(367), xref="paper", yref="paper",
                        showarrow=False, xanchor="right", yanchor="middle",
                        font=dict(family="DejaVu Sans", size=11, color="#333333")))

# note text + hollow arrow
annotations.append(dict(text="<b>" + note_text + "</b>", x=pxx(187), y=pxy(50), xref="paper", yref="paper",
                        showarrow=False, xanchor="left", yanchor="top", align="left",
                        font=dict(family="Lato", size=11.5, color="#111111")))
arrow_px = [(219.4, 101.6), (242.8, 143.2), (246.5, 141.2), (258.0, 176.0),
            (234.3, 148.0), (238.0, 146.0), (214.6, 104.4)]
path = "M " + " L ".join("%.4f,%.4f" % (pxx(a), pxy(b)) for a, b in arrow_px) + " Z"
shapes.append(dict(type="path", path=path, xref="paper", yref="paper",
                   line=dict(color="#111111", width=1.2), fillcolor="white", layer="above"))

# legend (manual, Highcharts-like grid)
legend_entries = [(n, c, 1) for n, c in zip(members.keys(), member_colors)]
legend_entries += [(n, c, 2) for n, c in zip(special_names, special_colors)]
row_y = [331, 340.5, 350, 359.5]
row4_x = [33, 73, 114, 177, 221, 270]
for i, (name, col, lw) in enumerate(legend_entries):
    r, c = divmod(i, 16)
    x0 = 33 + 40 * c if r < 3 else row4_x[c]
    y0 = row_y[r]
    shapes.append(dict(type="line", xref="paper", yref="paper",
                       x0=pxx(x0), x1=pxx(x0 + 10), y0=pxy(y0), y1=pxy(y0),
                       line=dict(color=col, width=lw)))
    annotations.append(dict(text="<b>%s</b>" % name, x=pxx(x0 + 13), y=pxy(y0),
                            xref="paper", yref="paper", showarrow=False,
                            xanchor="left", yanchor="middle",
                            font=dict(family="DejaVu Sans", size=7.5, color="#333333")))

axis_font = dict(family="DejaVu Sans", size=7, color="#555555")
fig.update_layout(
    width=W, height=H,
    margin=dict(l=ML, r=MR, t=MT, b=MB, pad=0),
    paper_bgcolor="white", plot_bgcolor="white",
    showlegend=False,
    annotations=annotations, shapes=shapes,
    xaxis=dict(type="date", range=["2025-01-06 09:52", "2025-01-21 03:16"],
               tickvals=tick_days, ticktext=tick_text, tickfont=axis_font,
               showgrid=True, gridcolor="#dadada", griddash="dash", gridwidth=1,
               showline=True, mirror=True, linecolor="#9a9a9a", linewidth=1.5,
               ticks="", zeroline=False, ticklabelstandoff=4,
               title=dict(text="Local time (UTC+1)", font=axis_font, standoff=3)),
    yaxis=dict(range=[-20, 15], tickvals=y_ticks, ticktext=y_tick_text, tickfont=axis_font,
               showgrid=True, gridcolor="#dadada", griddash="dash", gridwidth=1,
               showline=True, mirror=True, linecolor="#9a9a9a", linewidth=1.5,
               ticks="", zeroline=False, ticklabelstandoff=9,
               title=dict(text="850 hPa Temp. (°C)", font=axis_font, standoff=6)),
)

fig.write_html("out.html", config={"displayModeBar": False},
               post_script="document.body.style.margin='0';document.body.style.padding='0';")
